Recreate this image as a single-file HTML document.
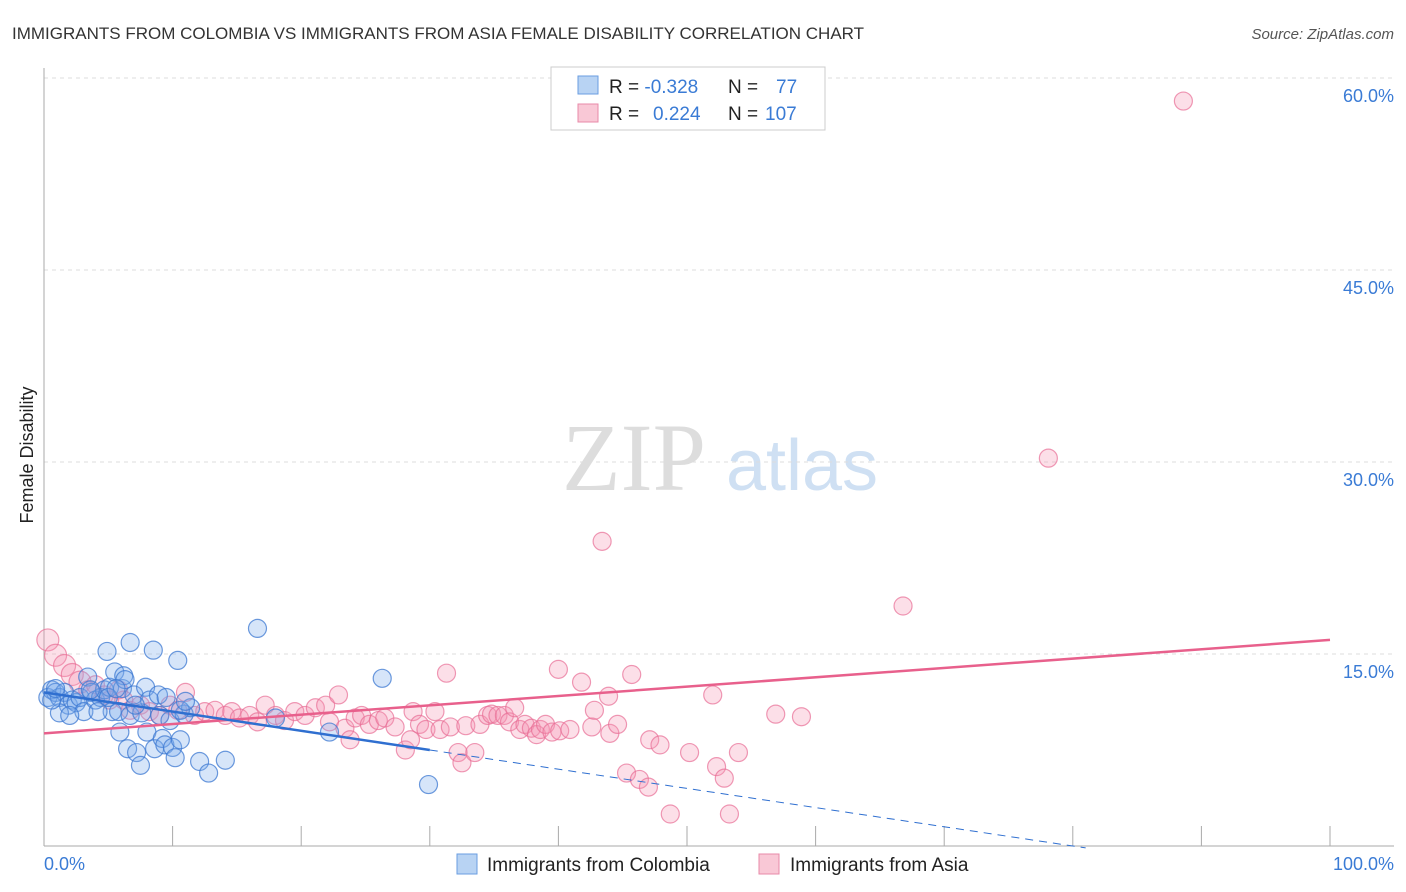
<!DOCTYPE html>
<html><head><meta charset="utf-8"><style>
body{margin:0;background:#fff;font-family:"Liberation Sans",sans-serif}
svg{display:block}
</style></head><body>
<svg id="c" width="1406" height="892">
<text x="12" y="39" font-size="17" fill="#333">IMMIGRANTS FROM COLOMBIA VS IMMIGRANTS FROM ASIA FEMALE DISABILITY CORRELATION CHART</text>
<text x="1394" y="39" font-size="15" fill="#555" font-style="italic" text-anchor="end">Source: ZipAtlas.com</text>
<text x="634" y="490" font-size="96" fill="#ddd" font-family="Liberation Serif,serif" text-anchor="middle">ZIP</text>
<text x="802" y="490" font-size="72" fill="#cfe0f3" text-anchor="middle">atlas</text>
<g id="grid"></g><g id="axes"></g><g id="pts"></g><g id="trend"></g>
<text transform="translate(33,455) rotate(-90)" font-size="18" fill="#222" text-anchor="middle">Female Disability</text>
<text x="44" y="870" font-size="18" fill="#3a7bd5">0.0%</text>
<text x="1394" y="870" font-size="18" fill="#3a7bd5" text-anchor="end">100.0%</text>
<g>
<rect x="551" y="67" width="274" height="63" fill="#fff" stroke="#ccc"/>
<rect x="578" y="76" width="20" height="18" fill="#b8d3f3" stroke="#6a9ee0"/>
<rect x="578" y="104" width="20" height="18" fill="#f9c8d6" stroke="#e88aa8"/>
<text x="609" y="93" font-size="19" fill="#222">R = <tspan fill="#3a7bd5">-0.328</tspan><tspan x="728">N = </tspan><tspan fill="#3a7bd5" x="776">77</tspan></text>
<text x="609" y="120" font-size="19" fill="#222">R = <tspan fill="#3a7bd5" x="653">0.224</tspan><tspan x="728">N = </tspan><tspan fill="#3a7bd5" x="765">107</tspan></text>
</g>
<g>
<rect x="457" y="854" width="20" height="20" fill="#b8d3f3" stroke="#6a9ee0"/>
<text x="487" y="871" font-size="19" fill="#222">Immigrants from Colombia</text>
<rect x="759" y="854" width="20" height="20" fill="#f9c8d6" stroke="#e88aa8"/>
<text x="790" y="871" font-size="19" fill="#222">Immigrants from Asia</text>
</g>
</svg>
<script>
const blueX=[0.3,0.6,0.9,1.2,1.6,1.9,2.2,2.5,2.8,3.1,3.4,3.7,4.0,4.4,4.7,4.9,5.1,5.3,5.5,5.8,5.9,6.1,6.2,6.3,6.5,6.7,6.7,7.0,7.2,7.5,7.6,7.9,8.0,8.2,8.5,8.6,8.9,9.0,9.2,9.4,9.8,10.0,10.2,10.4,10.6,10.9,11.4,12.1,12.8,14.1,16.6,18.0,22.2,26.3,29.9,1.2,2.0,3.6,4.2,5.0,5.6,7.1,9.5,10.6,11.0,0.6,0.9];
const blueY=[11.6,12.2,12.0,11.6,12.0,11.0,11.4,11.2,11.6,10.5,13.2,12.0,11.4,11.6,12.2,15.2,12.4,10.5,13.6,10.5,8.9,12.3,13.3,13.0,7.6,10.2,15.9,11.8,7.3,6.3,10.4,12.4,8.9,11.4,15.3,7.6,11.8,10.2,8.4,7.9,9.8,7.7,6.9,14.5,8.3,10.3,10.8,6.6,5.7,6.7,17.0,10.0,8.9,13.1,4.8,10.4,10.2,12.2,10.5,11.6,12.3,11.0,11.6,10.6,11.3,11.4,12.3];
const pinkX=[88.6,78.1,43.4,66.8,0.3,0.9,1.6,2.2,2.8,3.4,4.0,4.7,5.1,5.8,6.2,6.7,7.5,8.2,9.0,9.8,10.4,11.0,11.7,12.5,13.3,14.1,14.6,15.2,16.0,16.6,17.2,18.0,18.7,19.5,20.3,21.1,21.9,22.2,22.9,23.4,23.8,24.2,24.7,25.3,26.0,26.5,27.3,28.1,28.5,28.7,29.2,29.7,30.4,30.8,31.3,31.6,32.2,32.5,32.8,33.5,33.9,34.5,34.8,35.3,35.8,36.2,36.6,37.0,37.4,37.9,38.3,38.6,39.0,39.5,40.0,40.1,40.9,41.8,42.6,42.8,43.9,44.0,44.6,45.3,45.7,46.3,47.0,47.1,47.9,48.7,50.2,52.0,52.3,52.9,53.3,54.0,56.9,58.9];
const pinkY=[58.2,30.3,23.8,18.75,16.1,14.9,14.1,13.4,12.8,12.2,12.6,11.8,11.4,12.2,11.4,10.6,11.0,10.5,10.2,11.0,10.6,12.0,10.2,10.5,10.6,10.2,10.5,10.0,10.2,9.7,11.0,10.2,9.8,10.5,10.2,10.8,11.0,9.7,11.8,9.2,8.3,10.0,10.2,9.5,9.8,10.0,9.3,7.5,8.3,10.5,9.5,9.1,10.5,9.1,13.5,9.3,7.3,6.5,9.4,7.3,9.5,10.2,10.3,10.2,10.2,9.7,10.8,9.1,9.5,9.2,8.7,9.1,9.5,8.9,13.8,9.0,9.1,12.8,9.3,10.6,11.7,8.8,9.5,5.7,13.4,5.2,4.6,8.3,7.9,2.5,7.3,11.8,6.2,5.3,2.5,7.3,10.3,10.1];
const yTicks=[15,30,45,60];
const yTickLabels=["15.0%","30.0%","45.0%","60.0%"];
const xTicks=[0,10,20,30,40,50,60,70,80,90,100];
const blueTrend=[12.0,-0.15];
const pinkTrend=[8.8,0.073];
const NS="http://www.w3.org/2000/svg";
const X=v=>44+v*12.86, Y=v=>846-v*12.8;
function mk(t,a,p){const e=document.createElementNS(NS,t);for(const k in a)e.setAttribute(k,a[k]);p.appendChild(e);return e;}
const grid=document.getElementById('grid'),axes=document.getElementById('axes'),pts=document.getElementById('pts'),tr=document.getElementById('trend');
yTicks.forEach((v,i)=>{
 const l=mk('line',{x1:44,x2:1394,y1:Y(v),y2:Y(v),stroke:'#ddd','stroke-dasharray':'4,4'},grid);
 
 
 const t=mk('text',{x:1394,y:Y(v)+24,'font-size':18,fill:'#3a7bd5','text-anchor':'end'},grid);
 t.textContent=yTickLabels[i];
 
 
});
const ax=mk('line',{x1:44,x2:44,y1:68,y2:846,stroke:'#aaa'},axes);


const bx=mk('line',{x1:44,x2:1394,y1:846,y2:846,stroke:'#aaa'},axes);


xTicks.forEach(v=>{
 const t=mk('line',{x1:X(v),x2:X(v),y1:826,y2:846,stroke:'#aaa'},axes);
 
 
});
pinkX.forEach((x,i)=>{
 const c=mk('circle',{cx:X(x),cy:Y(pinkY[i]),r:(x<3?11:9),fill:'rgba(244,150,180,0.3)',stroke:'rgba(232,110,150,0.7)','stroke-width':1.2},pts);
 
 
});
blueX.forEach((x,i)=>{
 const c=mk('circle',{cx:X(x),cy:Y(blueY[i]),r:9,fill:'rgba(120,170,235,0.3)',stroke:'rgba(60,120,210,0.75)','stroke-width':1.2},pts);
 
 
});
const pl=mk('line',{x1:X(0),y1:Y(pinkTrend[0]),x2:X(100),y2:Y(pinkTrend[0]+pinkTrend[1]*100),stroke:'#e8608c','stroke-width':2.5},tr);


const bl=mk('line',{x1:X(0),y1:Y(blueTrend[0]),x2:X(30),y2:Y(blueTrend[0]+blueTrend[1]*30),stroke:'#2f6fd0','stroke-width':2.5},tr);


const bd=mk('line',{x1:X(30),y1:Y(blueTrend[0]+blueTrend[1]*30),x2:X(81),y2:Y(blueTrend[0]+blueTrend[1]*81),stroke:'#2f6fd0','stroke-width':1,'stroke-dasharray':'8,6'},tr);


</script>
</body></html>
